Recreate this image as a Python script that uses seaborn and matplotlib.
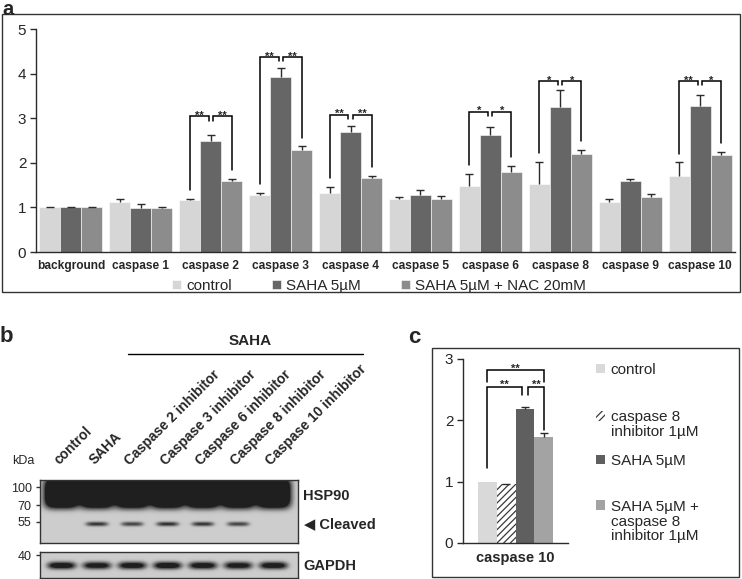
import numpy as np
import pandas as pd
import matplotlib
matplotlib.use("Agg")
import matplotlib.pyplot as plt
from matplotlib.patches import Rectangle, Patch
from matplotlib.lines import Line2D
import seaborn as sns

# ---- panel a : caspase activity ----
caspases = ['background', 'caspase 1', 'caspase 2', 'caspase 3', 'caspase 4',
            'caspase 5', 'caspase 6', 'caspase 8', 'caspase 9', 'caspase 10']
conditions_a = ['control', 'SAHA 5µM', 'SAHA 5µM + NAC 20mM']
control_a = [1.00, 1.12, 1.16, 1.29, 1.33, 1.18, 1.49, 1.53, 1.12, 1.70]
saha_a = [1.00, 0.99, 2.49, 3.92, 2.69, 1.28, 2.62, 3.26, 1.60, 3.28]
nac_a = [1.00, 0.99, 1.60, 2.30, 1.66, 1.18, 1.80, 2.20, 1.23, 2.18]
control_err = [0.01, 0.08, 0.04, 0.03, 0.13, 0.06, 0.26, 0.50, 0.07, 0.31]
saha_err = [0.01, 0.08, 0.13, 0.20, 0.13, 0.11, 0.19, 0.37, 0.04, 0.24]
nac_err = [0.01, 0.03, 0.04, 0.07, 0.04, 0.07, 0.14, 0.10, 0.08, 0.07]

sig_cats = ['caspase 2', 'caspase 3', 'caspase 4', 'caspase 6', 'caspase 8', 'caspase 10']
sig_left = ['**', '**', '**', '*', '*', '**']
sig_right = ['**', '**', '**', '*', '*', '*']
sig_top = [3.05, 4.38, 3.08, 3.15, 3.84, 3.84]

# ---- panel b : western blot band intensities ----
lanes = ['control', 'SAHA', 'Caspase 2 inhibitor', 'Caspase 3 inhibitor',
         'Caspase 6 inhibitor', 'Caspase 8 inhibitor', 'Caspase 10 inhibitor']
hsp90 = [1.0, 1.0, 1.0, 1.0, 1.0, 1.0, 1.0]
cleaved = [0.0, 0.60, 0.55, 0.62, 0.60, 0.55, 0.0]
gapdh = [0.80, 0.75, 0.78, 0.82, 0.78, 0.75, 0.78]
kda_upper = ['100', '70', '55']
kda_lower = ['40']

# ---- panel c : caspase 10 ----
groups_c = ['control', 'caspase 8\ninhibitor 1µM', 'SAHA 5µM',
            'SAHA 5µM +\ncaspase 8\ninhibitor 1µM']
values_c = [1.00, 0.96, 2.19, 1.73]
err_c = [0.00, 0.01, 0.03, 0.06]

sns.set_style("white")
plt.rcParams['font.family'] = ['Liberation Sans', 'DejaVu Sans']
plt.rcParams['hatch.linewidth'] = 0.9

W, H = 742, 579


def box(l, t, r, b):
    return [l / W, 1 - b / H, (r - l) / W, (b - t) / H]


def fx(x):
    return x / W


def fy(y):
    return 1 - y / H


fig = plt.figure(figsize=(7.42, 5.79), dpi=100)
fig.patch.set_facecolor('white')

ink = '#2b2b2b'


def upper_errors(ax, cont, errs):
    xs = [b.get_x() + b.get_width() / 2 for b in cont]
    ys = [b.get_height() for b in cont]
    eb = ax.errorbar(xs, ys, yerr=[np.zeros(len(errs)), errs], fmt='none',
                     ecolor=ink, elinewidth=1, capsize=2.6, capthick=1, zorder=3)
    for cl in eb[1]:
        if np.allclose(cl.get_ydata(), ys):
            cl.set_visible(False)


def bracket(ax, x0, x1, top, y0, y1, label, fs):
    ax.plot([x0, x0, x1, x1], [y0, top, top, y1], color='black', lw=1.1,
            solid_joinstyle='miter', zorder=4)
    ax.text((x0 + x1) / 2, top - 0.02 * ax.get_ylim()[1], label, ha='center',
            va='bottom', fontsize=fs, fontweight='bold')


def style_axes(ax, ncat, ylim, xfs):
    ax.set_xlim(-0.5, ncat - 0.5)
    ax.set_ylim(0, ylim)
    ax.set_yticks(range(ylim + 1))
    ax.set_xlabel('')
    ax.set_ylabel('')
    sns.despine(ax=ax)
    for s in ['left', 'bottom']:
        ax.spines[s].set_color(ink)
        ax.spines[s].set_linewidth(1)
    ax.set_xticks(np.arange(-0.5, ncat), minor=True)
    ax.tick_params(axis='x', which='major', length=0, pad=6, labelsize=xfs)
    ax.tick_params(axis='x', which='minor', length=4, width=1, color=ink, direction='out')
    ax.tick_params(axis='y', length=4, width=1, color=ink, direction='out',
                   labelsize=11, left=True, pad=3)
    for t in ax.get_xticklabels():
        t.set_fontweight('bold')


# ================= panel a =================
fig.add_artist(Rectangle((fx(2), fy(292)), 738 / W, 278 / H, transform=fig.transFigure,
                         fill=False, ec='#333333', lw=1))
fig.text(fx(2), fy(0), 'a', fontsize=14.5, fontweight='bold', va='top')

ax_a = fig.add_axes(box(36, 29.3, 735, 252))
df_a = pd.DataFrame({'caspase': caspases * 3,
                     'condition': np.repeat(conditions_a, len(caspases)),
                     'value': control_a + saha_a + nac_a})
pal_a = ['#d6d6d6', '#666666', '#8c8c8c']
sns.barplot(data=df_a, x='caspase', y='value', hue='condition', palette=pal_a,
            width=0.9, errorbar=None, saturation=1, ax=ax_a,
            edgecolor='white', linewidth=0.4)
style_axes(ax_a, len(caspases), 5, 8.6)
for cont, errs in zip(ax_a.containers, [control_err, saha_err, nac_err]):
    upper_errors(ax_a, cont, errs)

gap = 0.03
for cat, ll, rl, top in zip(sig_cats, sig_left, sig_right, sig_top):
    i = caspases.index(cat)
    bc, bs, bn = (ax_a.containers[k][i] for k in range(3))
    xc = bc.get_x() + bc.get_width() / 2
    xs = bs.get_x() + bs.get_width() / 2
    xn = bn.get_x() + bn.get_width() / 2
    bracket(ax_a, xc, xs - gap, top, control_a[i] + control_err[i] + 0.2, top - 0.1, ll, 8)
    bracket(ax_a, xs + gap, xn, top, top - 0.1, nac_a[i] + nac_err[i] + 0.2, rl, 8)

sns.move_legend(ax_a, 'center', bbox_to_anchor=(fx(379), fy(286)),
                bbox_transform=fig.transFigure, ncol=3, frameon=False, title=None,
                fontsize=11, handlelength=0.6, handleheight=0.6, handletextpad=0.35,
                columnspacing=2.6, borderpad=0, borderaxespad=0)

# ================= panel b =================
fig.text(fx(0), fy(342), 'b', fontsize=16, fontweight='bold', va='baseline')
fig.text(fx(250), fy(341), 'SAHA', fontsize=11, fontweight='bold', ha='center', va='center')
fig.add_artist(Line2D([fx(128), fx(363)], [fy(354), fy(354)], transform=fig.transFigure,
                      color='black', lw=1))
fig.text(fx(12), fy(461), 'kDa', fontsize=9, va='center')

ax_b1 = fig.add_axes(box(40, 480, 298, 543))
ax_b2 = fig.add_axes(box(40, 552, 298, 578))
ncol = 258
cols = np.arange(ncol) + 0.5
lane_x = 4 + 35.3 * (np.arange(len(lanes)) + 0.5)


def band(nrow, amps, row_c, sig_r, half_w, p=2):
    rows = np.arange(nrow) + 0.5
    if p == 2:
        vert = np.exp(-((rows - row_c) / sig_r) ** 2 / 2)
    else:
        vert = np.exp(-np.abs((rows - row_c) / sig_r) ** p)
    horiz = np.zeros(ncol)
    for a, c in zip(amps, lane_x):
        horiz += a * np.exp(-((cols - c) / half_w) ** 4)
    return vert[:, None] * horiz[None, :]


bg = 0.34
upper = bg + 1.5 * band(63, hsp90, 13, 15, 17, p=4) + band(63, cleaved, 44, 1.6, 11)
lower = bg + 1.1 * band(26, gapdh, 13.5, 2.6, 14)
for ax, img in [(ax_b1, upper), (ax_b2, lower)]:
    sns.heatmap(np.clip(img, 0, 1), ax=ax, cmap='Greys', vmin=0, vmax=1.12, cbar=False,
                xticklabels=False, yticklabels=False)
    for sp in ax.spines.values():
        sp.set_visible(True)
        sp.set_color('#333333')
        sp.set_linewidth(1)

ax_b1.set_xticks(lane_x)
ax_b1.set_xticklabels(lanes, rotation=45, ha='left', rotation_mode='anchor',
                      fontweight='bold', fontsize=10)
ax_b1.tick_params(axis='x', top=True, bottom=False, labeltop=True, labelbottom=False,
                  length=0, pad=9)
ax_b1.set_yticks([7, 25, 42])
ax_b1.set_yticklabels(kda_upper, fontsize=9, rotation=0)
ax_b2.set_xticks([])
ax_b2.set_yticks([3])
ax_b2.set_yticklabels(kda_lower, fontsize=9, rotation=0)
for ax in (ax_b1, ax_b2):
    ax.tick_params(axis='y', left=True, length=3, width=1, pad=3, color='#333333')

fig.text(fx(303), fy(496), 'HSP90', fontsize=10.5, fontweight='bold', va='center')
fig.text(fx(304), fy(524), '◀ Cleaved', fontsize=10.5, fontweight='bold', va='center')
fig.text(fx(303), fy(566), 'GAPDH', fontsize=10.5, fontweight='bold', va='center')

# ================= panel c =================
fig.add_artist(Rectangle((fx(432), fy(577)), 307 / W, 229 / H, transform=fig.transFigure,
                         fill=False, ec='#333333', lw=1))
fig.text(fx(408), fy(343), 'c', fontsize=16, fontweight='bold', va='baseline')

ax_c = fig.add_axes(box(463, 359, 568, 543))
df_c = pd.DataFrame({'target': ['caspase 10'] * len(groups_c), 'treatment': groups_c,
                     'value': values_c})
pal_c = ['#d9d9d9', '#ffffff', '#5f5f5f', '#a3a3a3']
sns.barplot(data=df_c, x='target', y='value', hue='treatment', palette=pal_c,
            width=0.72, errorbar=None, saturation=1, legend=False, ax=ax_c, linewidth=0)
hbar = ax_c.containers[1][0]
hbar.set_facecolor('white')
hbar.set_edgecolor('#3a3a3a')
hbar.set_hatch('/////')
hbar.set_linewidth(0)
style_axes(ax_c, 1, 3, 10.5)
for cont, e in zip(ax_c.containers, err_c):
    if e > 0:
        upper_errors(ax_c, cont, [e])

xc_ = [ax_c.containers[k][0].get_x() + ax_c.containers[k][0].get_width() / 2 for k in range(4)]
bracket(ax_c, xc_[0], xc_[3], 2.82, 2.63, 2.63, '**', 8)
bracket(ax_c, xc_[0], xc_[2] - gap, 2.55, values_c[0] + 0.22, 2.41, '**', 8)
bracket(ax_c, xc_[2] + gap, xc_[3], 2.55, 2.41, values_c[3] + err_c[3] + 0.05, '**', 8)

legend_first_line_y = [371, 418, 462, 508]
line_pt = 11.9
for k, (lab, col) in enumerate(zip(groups_c, pal_c)):
    if k == 1:
        h = Patch(facecolor='white', edgecolor='#3a3a3a', hatch='/////', linewidth=0)
    else:
        h = Patch(facecolor=col, edgecolor='none')
    nl = lab.count('\n')
    leg = fig.legend([h], [lab], loc='upper left',
                     bbox_to_anchor=(fx(596), fy(legend_first_line_y[k] - 8)),
                     frameon=False, fontsize=11, handlelength=0.6, handleheight=0.6,
                     handletextpad=0.35, borderpad=0, borderaxespad=0)
    for t in leg.get_texts():
        t.set_linespacing(1.05)
    rect = leg.legend_handles[0]
    rect.set_y(rect.get_y() + nl * line_pt / 2)

fig.savefig('out.png', dpi=100, facecolor='white')
